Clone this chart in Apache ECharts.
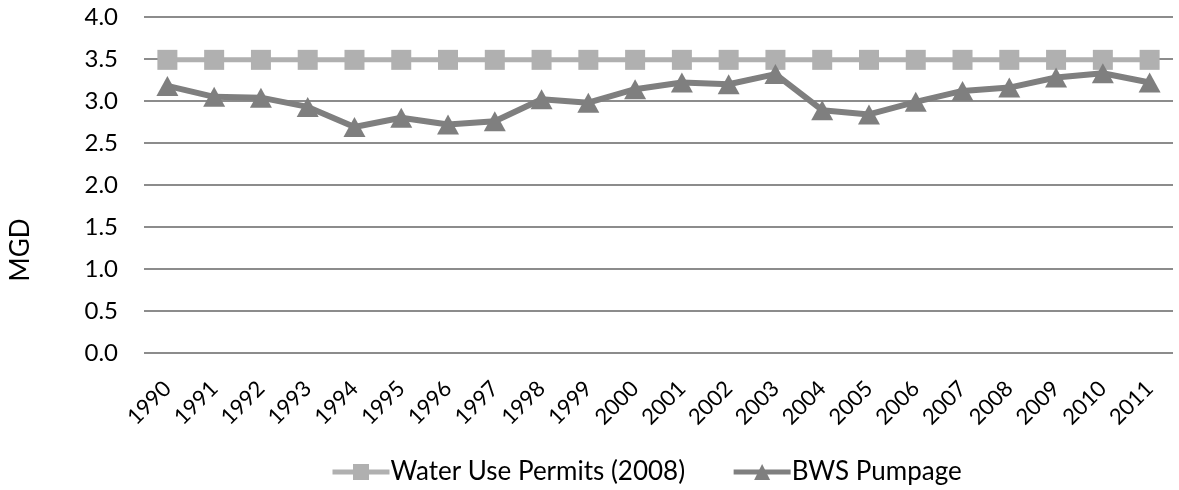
<!DOCTYPE html>
<html>
<head>
<meta charset="utf-8">
<script src="https://cdn.jsdelivr.net/npm/echarts@6/dist/echarts.min.js"></script>
<style>
  html, body { margin: 0; padding: 0; background: #fff; }
  #chart { width: 1179px; height: 490px; }
</style>
</head>
<body>
<div id="chart"></div>
<script>
// Years on the category axis
const years = ['1990','1991','1992','1993','1994','1995','1996','1997','1998','1999','2000',
               '2001','2002','2003','2004','2005','2006','2007','2008','2009','2010','2011'];

// Permitted withdrawal (MGD), constant across the period
const permits = [3.49,3.49,3.49,3.49,3.49,3.49,3.49,3.49,3.49,3.49,3.49,
                 3.49,3.49,3.49,3.49,3.49,3.49,3.49,3.49,3.49,3.49,3.49];

// Annual BWS pumpage (MGD)
const pumpage = [3.18,3.05,3.04,2.93,2.69,2.80,2.72,2.76,3.02,2.98,3.14,
                 3.22,3.20,3.32,2.89,2.84,2.99,3.12,3.16,3.28,3.33,3.22];

const FONT = 'Lato';

const chart = echarts.init(document.getElementById('chart'), null, { renderer: 'canvas' });
chart.setOption({
  animation: false,
  backgroundColor: '#ffffff',
  textStyle: { fontFamily: FONT, color: '#000' },
  grid: { left: 144, right: 6, top: 17, bottom: 137, containLabel: false },
  // Axis title, set lower than the plot centre
  graphic: [{
    type: 'text',
    x: 21,
    y: 250,
    rotation: Math.PI / 2,
    style: {
      text: 'MGD',
      fontFamily: FONT,
      fontSize: 26,
      fill: '#000',
      textAlign: 'center',
      textVerticalAlign: 'middle'
    }
  }],
  legend: {
    top: 454,
    left: 325,
    itemWidth: 57,
    itemHeight: 20,
    itemGap: 46,
    lineStyle: { width: 5 },
    textStyle: { fontFamily: FONT, fontSize: 26, color: '#000', padding: [0, 0, 0, -4] },
    data: [
      { name: 'Water Use Permits (2008)' },
      { name: 'BWS Pumpage' }
    ]
  },
  xAxis: {
    type: 'category',
    data: years,
    boundaryGap: true,
    axisLine: { show: false },
    axisTick: { show: false },
    axisLabel: {
      rotate: 45,
      fontFamily: FONT,
      fontSize: 22,
      color: '#000',
      margin: 32,
      interval: 0
    }
  },
  yAxis: {
    type: 'value',
    min: 0,
    max: 4,
    interval: 0.5,
    axisLine: { show: false },
    axisTick: { show: false },
    axisLabel: {
      fontFamily: FONT,
      fontSize: 24,
      color: '#000',
      margin: 26,
      formatter: v => v.toFixed(1)
    },
    splitLine: { lineStyle: { color: '#8c8c8c', width: 2 } }
  },
  series: [
    {
      name: 'Water Use Permits (2008)',
      type: 'line',
      data: permits,
      symbol: 'rect',
      symbolSize: 20,
      itemStyle: { color: '#b0b0b0' },
      lineStyle: { color: '#b0b0b0', width: 5 },
      z: 2
    },
    {
      name: 'BWS Pumpage',
      type: 'line',
      data: pumpage,
      symbol: 'triangle',
      symbolSize: [22, 20],
      itemStyle: { color: '#7f7f7f' },
      lineStyle: { color: '#7f7f7f', width: 6 },
      z: 3
    }
  ]
});
</script>
</body>
</html>
